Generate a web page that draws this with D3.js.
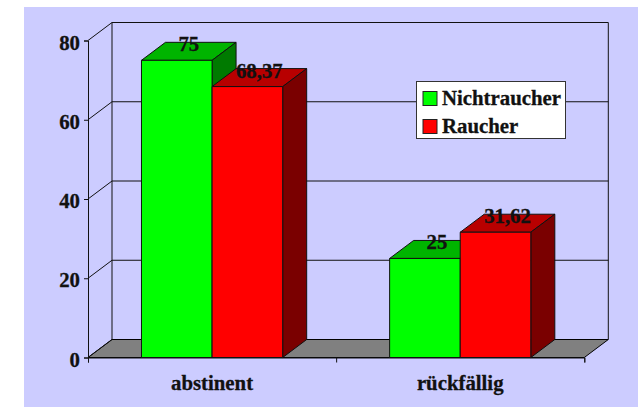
<!DOCTYPE html>
<html>
<head>
<meta charset="utf-8">
<script src="https://cdn.jsdelivr.net/npm/d3@7/dist/d3.min.js"></script>
<style>
  html, body { margin: 0; padding: 0; background: #fff; }
  svg { display: block; }
  text { font-family: "Liberation Serif", serif; font-weight: bold; font-size: 20.8px; fill: #111; stroke: #111; stroke-width: 0.3px; }
</style>
</head>
<body>
<svg id="chart" width="639" height="407"></svg>
<script>
const categories = ["abstinent", "rückfällig"];
const seriesNames = ["Nichtraucher", "Raucher"];
const nichtraucher = [75, 25];
const raucher = [68.37, 31.62];
const valueLabels = [["75", "25"], ["68,37", "31,62"]];
const yTicks = [0, 20, 40, 60, 80];

const faceColors = [
  { front: "#00ff00", top: "#00b400", side: "#007a00" },
  { front: "#ff0000", top: "#b80000", side: "#7a0000" }
];

const depthX = 24, depthY = -18;
const left = 88, right = 584.3, yBase = 357.5, yTop = 40.5;

const svg = d3.select("#chart");
const x0 = d3.scaleBand().domain(categories).range([left, right]).paddingInner(0.431).paddingOuter(0.2155);
const x1 = d3.scaleBand().domain(seriesNames).range([0, x0.bandwidth()]);
const y = d3.scaleLinear().domain([0, 80]).range([yBase, yTop]);

// Panel background
svg.append("rect").attr("x", 24).attr("y", 7).attr("width", 614).attr("height", 400).attr("fill", "#ccccff");

// Floor of the 3D box
const pts = a => a.map(p => p.join(",")).join(" ");
svg.append("polygon")
  .attr("points", pts([[left, yBase], [right, yBase], [right + depthX, yBase + depthY], [left + depthX, yBase + depthY]]))
  .attr("fill", "#808080").attr("stroke", "#000").attr("stroke-width", 1);

// Back wall, side wall edges and gridlines
const grid = svg.append("g").attr("fill", "none").attr("stroke", "#111").attr("stroke-width", 1);
yTicks.forEach(t => {
  if (t > 0) {
    grid.append("line").attr("x1", left + depthX).attr("x2", right + depthX)
      .attr("y1", y(t) + depthY).attr("y2", y(t) + depthY);
  }
  grid.append("line").attr("x1", left).attr("x2", left + depthX)
    .attr("y1", y(t)).attr("y2", y(t) + depthY);
});
grid.append("line").attr("x1", left + depthX).attr("x2", left + depthX)
  .attr("y1", y(0) + depthY).attr("y2", y(80) + depthY);
grid.append("line").attr("x1", right + depthX).attr("x2", right + depthX)
  .attr("y1", y(0) + depthY).attr("y2", y(80) + depthY);

// Axes
const yAxis = d3.axisLeft(y).tickValues(yTicks).tickSize(4).tickPadding(4).tickFormat(d3.format("d"));
const gy = svg.append("g").attr("transform", `translate(${left},0)`).call(yAxis);
gy.selectAll("line,path").attr("stroke", "#111");
gy.selectAll("text").attr("dy", null).attr("y", 8.5).attr("fill", "#111")
  .style("font-size", "20.8px").style("font-family", '"Liberation Serif", serif');

const xEdges = d3.scalePoint().domain([0, 1, 2]).range([left, right]);
const xAxis = d3.axisBottom(xEdges).tickSize(5).tickFormat("");
const gx = svg.append("g").attr("transform", `translate(0,${yBase})`).call(xAxis);
gx.selectAll("line,path").attr("stroke", "#111");

svg.append("g").selectAll("text").data(categories).join("text")
  .attr("x", d => x0(d) + x0.bandwidth() / 2)
  .attr("y", 389.5)
  .attr("text-anchor", "middle")
  .text(d => d);

// Bars, back series faces first so each box overlaps the previous one correctly
const seriesValues = [nichtraucher, raucher];
const drawBar = (c, s) => {
  const name = seriesNames[s], v = seriesValues[s][c];
  const xa = x0(categories[c]) + x1(name), xb = xa + x1.bandwidth();
  const yt = y(v), yb = y(0);
  const g = svg.append("g").attr("stroke", "#111").attr("stroke-width", 1).attr("stroke-linejoin", "round");
  g.append("polygon").attr("fill", faceColors[s].top)
    .attr("points", pts([[xa, yt], [xb, yt], [xb + depthX, yt + depthY], [xa + depthX, yt + depthY]]));
  g.append("polygon").attr("fill", faceColors[s].side)
    .attr("points", pts([[xb, yt], [xb + depthX, yt + depthY], [xb + depthX, yb + depthY], [xb, yb]]));
  g.append("polygon").attr("fill", faceColors[s].front)
    .attr("points", pts([[xa, yt], [xb, yt], [xb, yb], [xa, yb]]));
};
categories.forEach((_, c) => seriesNames.forEach((_, s) => drawBar(c, s)));

// Value labels sit on the top face of each box
categories.forEach((cat, c) => seriesNames.forEach((name, s) => {
  svg.append("text")
    .attr("x", x0(cat) + x1(name) + x1.bandwidth() / 2 + depthX / 2)
    .attr("y", y(seriesValues[s][c]) - 9)
    .attr("text-anchor", "middle")
    .text(valueLabels[s][c]);
}));

// Legend
const legend = svg.append("g");
legend.append("rect").attr("x", 416.5).attr("y", 81.5).attr("width", 149).attr("height", 57)
  .attr("fill", "#fff").attr("stroke", "#333");
seriesNames.forEach((name, s) => {
  const top = 91.5 + s * 28;
  legend.append("rect").attr("x", 423).attr("y", top).attr("width", 14).attr("height", 14)
    .attr("fill", faceColors[s].front).attr("stroke", "#222");
  legend.append("text").attr("x", 442).attr("y", top + 13.5).text(name);
});
</script>
</body>
</html>
